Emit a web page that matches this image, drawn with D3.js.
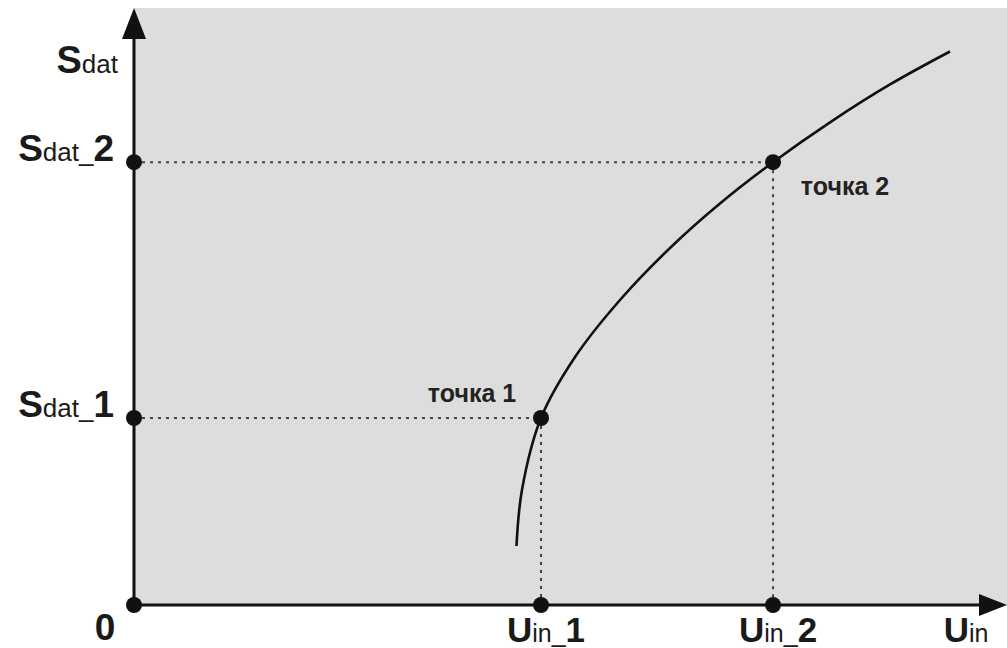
<!DOCTYPE html>
<html>
<head>
<meta charset="utf-8">
<script src="https://cdn.jsdelivr.net/npm/d3@7"></script>
<style>
  html, body { margin: 0; padding: 0; background: #fff; }
  svg { display: block; font-family: "Liberation Sans", Arial, sans-serif; }
</style>
</head>
<body>
<div id="chart"></div>
<script>
// curve S_dat(U_in) (arbitrary units 0..10)
const curveU = [4.381, 4.444, 4.662, 5.052, 5.567, 6.140, 6.712, 7.320, 7.973, 8.660, 9.347];
const curveS = [0.988, 1.926, 3.132, 4.154, 5.109, 5.980, 6.725, 7.417, 8.085, 8.719, 9.271];

// marked points
const pointU = [4.662, 7.320];
const pointS = [3.132, 7.417];
const pointLabels = ['точка 1', 'точка 2'];

// axis labels: [big, small, big]
const xTickLabels = [['U', 'in_', '1'], ['U', 'in_', '2']];
const yTickLabels = [['S', 'dat_', '1'], ['S', 'dat_', '2']];
const xAxisTitle = ['U', 'in', ''];
const yAxisTitle = ['S', 'dat', ''];
const originLabel = '0';

const width = 1007, height = 648;
const margin = { top: 8, right: 0, bottom: 43, left: 134 };

const x = d3.scaleLinear().domain([0, 10]).range([margin.left, width - margin.right]);
const y = d3.scaleLinear().domain([0, 10]).range([height - margin.bottom, margin.top]);

const svg = d3.select('#chart').append('svg')
  .attr('width', width)
  .attr('height', height);

// plot background
svg.append('rect')
  .attr('x', x(0))
  .attr('y', y(10))
  .attr('width', x(10) - x(0))
  .attr('height', y(0) - y(10))
  .attr('fill', '#dddddd');

// guide lines to the axes
const guides = svg.append('g')
  .attr('stroke', '#444')
  .attr('stroke-width', 2)
  .attr('stroke-dasharray', '3 5');

pointU.forEach((u, i) => {
  guides.append('line')
    .attr('x1', x(0)).attr('x2', x(u))
    .attr('y1', y(pointS[i])).attr('y2', y(pointS[i]));
  guides.append('line')
    .attr('x1', x(u)).attr('x2', x(u))
    .attr('y1', y(pointS[i])).attr('y2', y(0));
});

// curve
const line = d3.line()
  .x(d => x(d[0]))
  .y(d => y(d[1]))
  .curve(d3.curveCatmullRom.alpha(0.5));

svg.append('path')
  .datum(curveU.map((u, i) => [u, curveS[i]]))
  .attr('d', line)
  .attr('fill', 'none')
  .attr('stroke', '#111')
  .attr('stroke-width', 2.6);

// axes with arrow heads
const axes = svg.append('g').attr('stroke', '#111').attr('stroke-width', 3);
axes.append('line')
  .attr('x1', x(0)).attr('y1', y(0))
  .attr('x2', x(0)).attr('y2', y(10) + 20);
axes.append('line')
  .attr('x1', x(0)).attr('y1', y(0))
  .attr('x2', x(10) - 20).attr('y2', y(0));

svg.append('path')
  .attr('d', `M${x(0)},${y(10)} L${x(0) - 12},${y(10) + 31} L${x(0) + 12},${y(10) + 31} Z`)
  .attr('fill', '#111');
svg.append('path')
  .attr('d', `M${x(10)},${y(0)} L${x(10) - 28},${y(0) - 11} L${x(10) - 28},${y(0) + 11} Z`)
  .attr('fill', '#111');

// dots: origin, axis feet, curve points
const dots = [[0, 0]];
pointU.forEach((u, i) => {
  dots.push([0, pointS[i]], [u, 0], [u, pointS[i]]);
});
svg.append('g')
  .selectAll('circle')
  .data(dots)
  .join('circle')
  .attr('cx', d => x(d[0]))
  .attr('cy', d => y(d[1]))
  .attr('r', 8)
  .attr('fill', '#111');

// composite label: big bold letter, small subscript, big bold digit
function label(g, parts, px, py, anchor, big, small) {
  const t = g.append('text')
    .attr('x', px)
    .attr('y', py)
    .attr('text-anchor', anchor)
    .attr('fill', '#1a1a1a');
  t.append('tspan').attr('font-size', big).attr('font-weight', 'bold').text(parts[0]);
  t.append('tspan').attr('font-size', small).text(parts[1]);
  if (parts[2]) t.append('tspan').attr('font-size', big).attr('font-weight', 'bold').text(parts[2]);
  return t;
}

const labels = svg.append('g');
label(labels, yAxisTitle, 118, 73, 'end', 38, 26);
yTickLabels.forEach((p, i) => label(labels, p, 114, y(pointS[i]) - 1, 'end', 37, 26));
xTickLabels.forEach((p, i) => label(labels, p, x(pointU[i]) + 5, 642, 'middle', 35, 25));
label(labels, xAxisTitle, 966, 642, 'middle', 35, 25);

labels.append('text')
  .attr('x', 105).attr('y', 640)
  .attr('text-anchor', 'middle')
  .attr('font-size', 37)
  .attr('font-weight', 'bold')
  .attr('fill', '#1a1a1a')
  .text(originLabel);

// point captions
const captionOffset = [[-69, -16], [72, 33]];
pointU.forEach((u, i) => {
  labels.append('text')
    .attr('x', x(u) + captionOffset[i][0])
    .attr('y', y(pointS[i]) + captionOffset[i][1])
    .attr('text-anchor', 'middle')
    .attr('font-size', 25)
    .attr('font-weight', 'bold')
    .attr('fill', '#222')
    .text(pointLabels[i]);
});
</script>
</body>
</html>
